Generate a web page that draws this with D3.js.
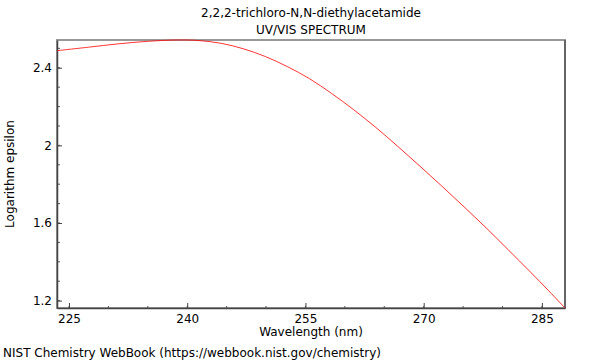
<!DOCTYPE html>
<meta charset="utf-8">
<script src="https://d3js.org/d3.v7.min.js"></script>
<style>
  body { margin: 0; background: #fff; }
  text { font-family: "DejaVu Sans", sans-serif; fill: #000; }
</style>
<div id="chart"></div>
<script>

// spectrum
var wavelength = [223.48, 227.50, 231.22, 234.96, 238.69, 241.49, 244.30, 247.10, 249.90, 252.70,
                  255.50, 258.30, 261.11, 263.91, 266.71, 269.52, 272.33, 275.13, 277.93, 280.73,
                  283.55, 285.88, 287.93];
var logEps = [2.488, 2.506, 2.523, 2.536, 2.543, 2.540, 2.526, 2.498, 2.458, 2.406,
              2.344, 2.268, 2.184, 2.093, 1.995, 1.893, 1.789, 1.683, 1.575, 1.462,
              1.347, 1.250, 1.162];

var xTicks = [225, 240, 255, 270, 285];
var yTicks = [1.2, 1.6, 2, 2.4];

var titleLines = ["2,2,2-trichloro-N,N-diethylacetamide", "UV/VIS SPECTRUM"];

var W = 600, H = 360;
var margin = {top: 40, right: 35, bottom: 52, left: 57},
    width = W - margin.left - margin.right,
    height = H - margin.top - margin.bottom;

var svg = d3.select("#chart").append("svg")
    .attr("width", W)
    .attr("height", H);

var g = svg.append("g")
    .attr("transform", "translate(" + margin.left + "," + margin.top + ")");

var x = d3.scaleLinear().domain(d3.extent(wavelength)).range([0, width]);
var y = d3.scaleLinear().domain(d3.extent(logEps)).range([height, 0]);

// frame
g.append("rect")
    .attr("width", width).attr("height", height)
    .attr("fill", "none")
    .attr("stroke", "#999").attr("stroke-width", 2);

// minor ticks
var xMinor = d3.range(225, 288, 5);
g.selectAll(".xminor").data(xMinor).enter().append("line")
    .attr("x1", function(d) { return x(d); }).attr("x2", function(d) { return x(d); })
    .attr("y1", height).attr("y2", height - 2)
    .attr("stroke", "#555");
var yMinor = d3.range(1.2, 2.55, 0.1);
g.selectAll(".yminor").data(yMinor).enter().append("line")
    .attr("y1", function(d) { return y(d); }).attr("y2", function(d) { return y(d); })
    .attr("x1", 0).attr("x2", 3)
    .attr("stroke", "#555");

// axes
var xAxis = g.append("g")
    .attr("transform", "translate(0," + height + ")")
    .call(d3.axisBottom(x).tickValues(xTicks).tickSizeInner(-5).tickSizeOuter(0).tickPadding(4));
var yAxis = g.append("g")
    .call(d3.axisLeft(y).tickValues(yTicks).tickFormat(d3.format("")).tickSizeInner(-5).tickSizeOuter(0).tickPadding(5));

[xAxis, yAxis].forEach(function(a) {
  a.select(".domain").attr("stroke", "#444").attr("stroke-width", 1.5);
  a.selectAll(".tick line").attr("stroke", "#444");
  a.selectAll("text").attr("font-size", 12).attr("font-family", "DejaVu Sans, sans-serif").attr("fill", "#000");
});
xAxis.selectAll("text").attr("dy", "0.9em");

// right border
g.append("line")
    .attr("x1", width).attr("x2", width).attr("y1", 0).attr("y2", height)
    .attr("stroke", "#555").attr("stroke-width", 1.5);

// spectrum line
var line = d3.line()
    .x(function(d, i) { return x(wavelength[i]); })
    .y(function(d) { return y(d); })
    .curve(d3.curveCatmullRom);

g.append("path")
    .datum(logEps)
    .attr("fill", "none")
    .attr("stroke", "#ff0000")
    .attr("stroke-width", 0.8)
    .attr("d", line);

// titles
svg.selectAll(".title").data(titleLines).enter().append("text")
    .attr("x", margin.left + width / 2)
    .attr("y", function(d, i) { return 17 + i * 17; })
    .attr("text-anchor", "middle")
    .attr("font-size", 12)
    .text(function(d) { return d; });

svg.append("text")
    .attr("x", margin.left + width / 2)
    .attr("y", 336)
    .attr("text-anchor", "middle")
    .attr("font-size", 12)
    .text("Wavelength (nm)");

svg.append("text")
    .attr("transform", "translate(14," + (margin.top + height / 2) + ") rotate(-90)")
    .attr("text-anchor", "middle")
    .attr("font-size", 12)
    .text("Logarithm epsilon");

svg.append("text")
    .attr("x", 3)
    .attr("y", 357)
    .attr("font-size", 12)
    .text("NIST Chemistry WebBook (https://webbook.nist.gov/chemistry)");

</script>
